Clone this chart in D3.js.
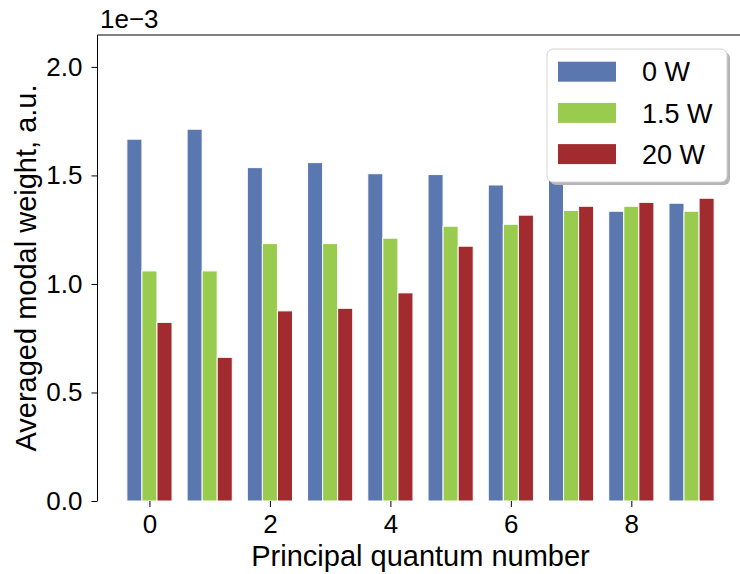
<!DOCTYPE html>
<html lang="en">
<head>
    <meta charset="UTF-8">
    <title>Averaged modal weight</title>
    <script src="https://d3js.org/d3.v7.min.js"></script>
    <style>
        body { margin: 0; background: #fff; }
        text { font-family: "Liberation Sans", Arial, Helvetica, sans-serif; fill: #000; }
    </style>
</head>
<body>
<div id="chart"></div>
<script>
    const width = 740;
    const height = 574;

    // data, in units of 1e-3
    const quantumNumbers = [0, 1, 2, 3, 4, 5, 6, 7, 8, 9];
    const seriesNames = ["0 W", "1.5 W", "20 W"];
    const weights0W  = [1.667, 1.713, 1.536, 1.559, 1.508, 1.504, 1.456, 1.50, 1.335, 1.372];
    const weights15W = [1.060, 1.060, 1.186, 1.186, 1.211, 1.266, 1.275, 1.339, 1.358, 1.335];
    const weights20W = [0.823, 0.662, 0.876, 0.888, 0.959, 1.174, 1.317, 1.358, 1.376, 1.395];
    const xTicks = [0, 2, 4, 6, 8];
    const yTicks = [0, 0.5, 1.0, 1.5, 2.0];
    const colors = ["#5a77b0", "#98cb4e", "#a12b2e"];

    const allSeries = [weights0W, weights15W, weights20W];
    const barWidth = 0.25;

    const margin = { top: 35, left: 97.5 };
    const plotBottom = 501;

    const svg = d3.select("#chart")
        .append("svg")
        .attr("width", width)
        .attr("height", height)
        .style("display", "block");

    const x = d3.scaleLinear()
        .domain([-0.8625, 9.8625])
        .range([97.5, 743.5]);

    const y = d3.scaleLinear()
        .domain([0, 2.147])
        .range([plotBottom, margin.top]);

    // bars
    allSeries.forEach((values, s) => {
        svg.append("g")
            .selectAll("rect")
            .data(values)
            .enter()
            .append("rect")
            .attr("x", (d, i) => x(quantumNumbers[i] + (s - 1) * barWidth - barWidth / 2))
            .attr("width", x(barWidth) - x(0))
            .attr("y", d => y(d))
            .attr("height", d => y(0) - y(d))
            .attr("fill", colors[s])
            .attr("stroke", "#fff")
            .attr("stroke-width", 1);
    });

    // axes frame
    const frame = svg.append("g")
        .attr("fill", "none")
        .attr("stroke", "#000")
        .attr("stroke-width", 1);
    frame.append("line").attr("x1", x.range()[0]).attr("x2", x.range()[0]).attr("y1", y.range()[0]).attr("y2", y.range()[1]);
    frame.append("line").attr("x1", x.range()[0]).attr("x2", x.range()[1]).attr("y1", y.range()[1]).attr("y2", y.range()[1]);
    frame.append("line").attr("x1", x.range()[1]).attr("x2", x.range()[1]).attr("y1", y.range()[0]).attr("y2", y.range()[1]);

    const xaxis = svg.append("g")
        .attr("transform", `translate(0, ${plotBottom})`)
        .call(d3.axisBottom(x).tickValues(xTicks).tickSize(6).tickPadding(8).tickFormat(d3.format("d")));
    xaxis.select(".domain").remove();
    xaxis.selectAll("text").style("font-size", "26px").attr("fill", "#000");

    const yaxis = svg.append("g")
        .attr("transform", `translate(${margin.left}, 0)`)
        .call(d3.axisLeft(y).tickValues(yTicks).tickSize(6).tickPadding(9).tickFormat(d3.format(".1f")));
    yaxis.select(".domain").remove();
    yaxis.selectAll("text").style("font-size", "26px").attr("fill", "#000");

    // offset text
    svg.append("text")
        .attr("x", 100)
        .attr("y", 28)
        .style("font-size", "26px")
        .text("1e\u22123");

    // axis labels
    svg.append("text")
        .attr("x", (x.range()[0] + x.range()[1]) / 2)
        .attr("y", 566)
        .attr("text-anchor", "middle")
        .style("font-size", "29px")
        .text("Principal quantum number");

    svg.append("text")
        .attr("transform", `translate(36, ${(y.range()[0] + y.range()[1]) / 2}) rotate(-90)`)
        .attr("text-anchor", "middle")
        .style("font-size", "29px")
        .text("Averaged modal weight, a.u.");

    // legend
    const legend = svg.append("g").attr("class", "legend");
    legend.append("rect")
        .attr("x", 550).attr("y", 52)
        .attr("width", 180).attr("height", 133)
        .attr("rx", 6)
        .attr("fill", "#b5b5b5");
    legend.append("rect")
        .attr("x", 547).attr("y", 49)
        .attr("width", 180).attr("height", 133)
        .attr("rx", 6)
        .attr("fill", "#fff")
        .attr("stroke", "#d4d4d4")
        .attr("stroke-width", 1);

    seriesNames.forEach((name, i) => {
        const cy = 71.7 + i * 41.2;
        legend.append("rect")
            .attr("x", 558).attr("y", cy - 10)
            .attr("width", 58).attr("height", 20)
            .attr("fill", colors[i]);
        legend.append("text")
            .attr("x", 642).attr("y", cy)
            .attr("dy", "0.36em")
            .style("font-size", "27px")
            .text(name);
    });
</script>
</body>
</html>
